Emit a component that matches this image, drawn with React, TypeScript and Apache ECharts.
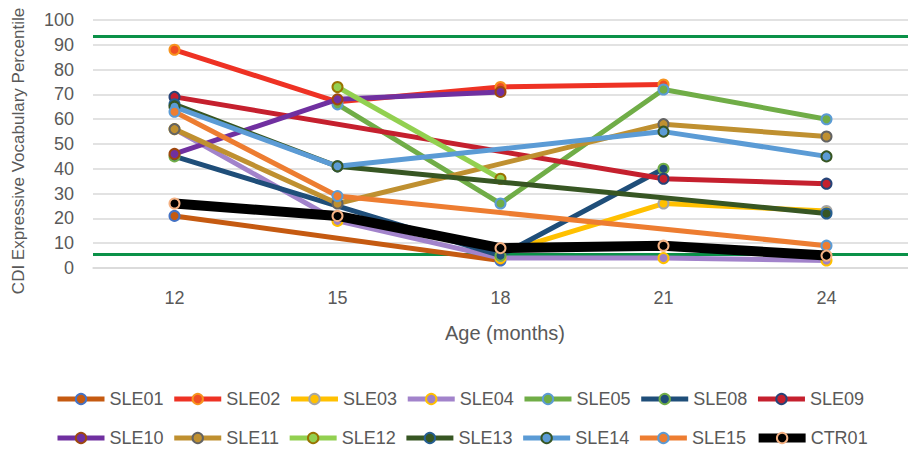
import React, { useEffect, useRef } from "react";
import * as echarts from "echarts";

const categories = ["12", "15", "18", "21", "24"];
const yTicks = [0, 100, 10];

const SLE01 = [21, null, 3, null, null];
const SLE02 = [88, 67, 73, 74, null];
const SLE03 = [null, null, 6, 26, 23];
const SLE04 = [56, 19, 4, 4, 3];
const SLE05 = [null, 66, 26, 72, 60];
const SLE08 = [45, null, 5, 40, null];
const SLE09 = [69, null, null, 36, 34];
const SLE10 = [46, 68, 71, null, null];
const SLE11 = [56, 26, null, 58, 53];
const SLE12 = [null, 73, 36, null, null];
const SLE13 = [66, 41, null, null, 22];
const SLE14 = [65, 41, null, 55, 45];
const SLE15 = [63, 29, null, null, 9];
const CTR01 = [26, 21, 8, 9, 5];

const referenceLines = [93.5, 5.6];

const seriesNames = ["SLE01", "SLE02", "SLE03", "SLE04", "SLE05", "SLE08", "SLE09", "SLE10", "SLE11", "SLE12", "SLE13", "SLE14", "SLE15", "CTR01"];
const seriesData = [SLE01, SLE02, SLE03, SLE04, SLE05, SLE08, SLE09, SLE10, SLE11, SLE12, SLE13, SLE14, SLE15, CTR01];
const lineColors = ["#C55A11", "#EE3224", "#FFC000", "#A283CB", "#70AD47", "#1F4E79", "#C5202E", "#7030A0", "#BF9030", "#92D050", "#375623", "#5B9BD5", "#ED7D31", "#000000"];
const markerFills = ["#C55A11", "#F04E23", "#FFC000", "#9E80C6", "#70AD47", "#1F4E79", "#C5202E", "#7030A0", "#BF9030", "#92D050", "#375623", "#5B9BD5", "#ED7D31", "#000000"];
const markerBorders = ["#4472C4", "#F7931E", "#A5A5A5", "#FFC000", "#5B9BD5", "#70AD47", "#264478", "#9E480E", "#636363", "#997300", "#255E91", "#375623", "#5B9BD5", "#F4B183"];

const FONT = "Liberation Sans";

export default function App() {
  const ref = useRef<HTMLDivElement>(null);
  useEffect(() => {
    if (!ref.current) return;
    const chart = echarts.init(ref.current, null, { renderer: "svg" });
    const series: any[] = seriesNames.map((name, i) => ({
      name,
      type: "line",
      data: seriesData[i],
      connectNulls: true,
      symbol: "circle",
      symbolSize: 10,
      z: 2 + i,
      lineStyle: { color: lineColors[i], width: name === "CTR01" ? 10 : 5 },
      itemStyle: { color: markerFills[i], borderColor: markerBorders[i], borderWidth: 2 },
      emphasis: { disabled: true },
    }));
    series[0].markLine = {
      silent: true,
      symbol: "none",
      label: { show: false },
      lineStyle: { color: "#0A9148", width: 3, type: "solid" },
      data: referenceLines.map((v) => ({ yAxis: v })),
      z: 1,
    };
    const legendData = (names: string[]) =>
      names.map((n) => ({ name: n, lineStyle: { width: n === "CTR01" ? 9 : 5 } }));
    const legendCommon = {
      left: 55,
      padding: 0,
      itemWidth: 47,
      itemHeight: 13,
      itemGap: 8.2,
      textStyle: { fontFamily: FONT, fontSize: 18, color: "#595959" },
    };
    chart.setOption({
      animation: false,
      textStyle: { fontFamily: FONT },
      grid: { left: 93, top: 20, width: 822.5, height: 248, containLabel: false },
      xAxis: {
        type: "category",
        data: categories,
        boundaryGap: true,
        axisLine: { show: true, lineStyle: { color: "#D9D9D9", width: 1.5 } },
        axisTick: { show: false },
        axisLabel: { color: "#595959", fontSize: 18, fontFamily: FONT, margin: 21 },
        splitLine: { show: false },
      },
      yAxis: {
        type: "value",
        min: yTicks[0],
        max: yTicks[1],
        interval: yTicks[2],
        axisLine: { show: false },
        axisTick: { show: false },
        axisLabel: { color: "#595959", fontSize: 18, fontFamily: FONT, margin: 19 },
        splitLine: { lineStyle: { color: "#D9D9D9", width: 1.5 } },
      },
      legend: [
        { ...legendCommon, top: 390, data: legendData(seriesNames.slice(0, 7)) },
        { ...legendCommon, top: 429, data: legendData(seriesNames.slice(7)) },
      ],
      graphic: [
        {
          type: "text",
          x: 18,
          y: 151,
          rotation: Math.PI / 2,
          style: {
            text: "CDI Expressive Vocabulary Percentile",
            fontFamily: FONT,
            fontSize: 17,
            fill: "#595959",
            align: "center",
            verticalAlign: "middle",
          },
        },
        {
          type: "text",
          x: 505,
          y: 333,
          style: {
            text: "Age (months)",
            fontFamily: FONT,
            fontSize: 20,
            fill: "#595959",
            align: "center",
            verticalAlign: "middle",
          },
        },
      ],
      series,
    });
    return () => chart.dispose();
  }, []);
  return <div ref={ref} style={{ width: 908, height: 449, position: "absolute", left: 0, top: 0 }} />;
}
